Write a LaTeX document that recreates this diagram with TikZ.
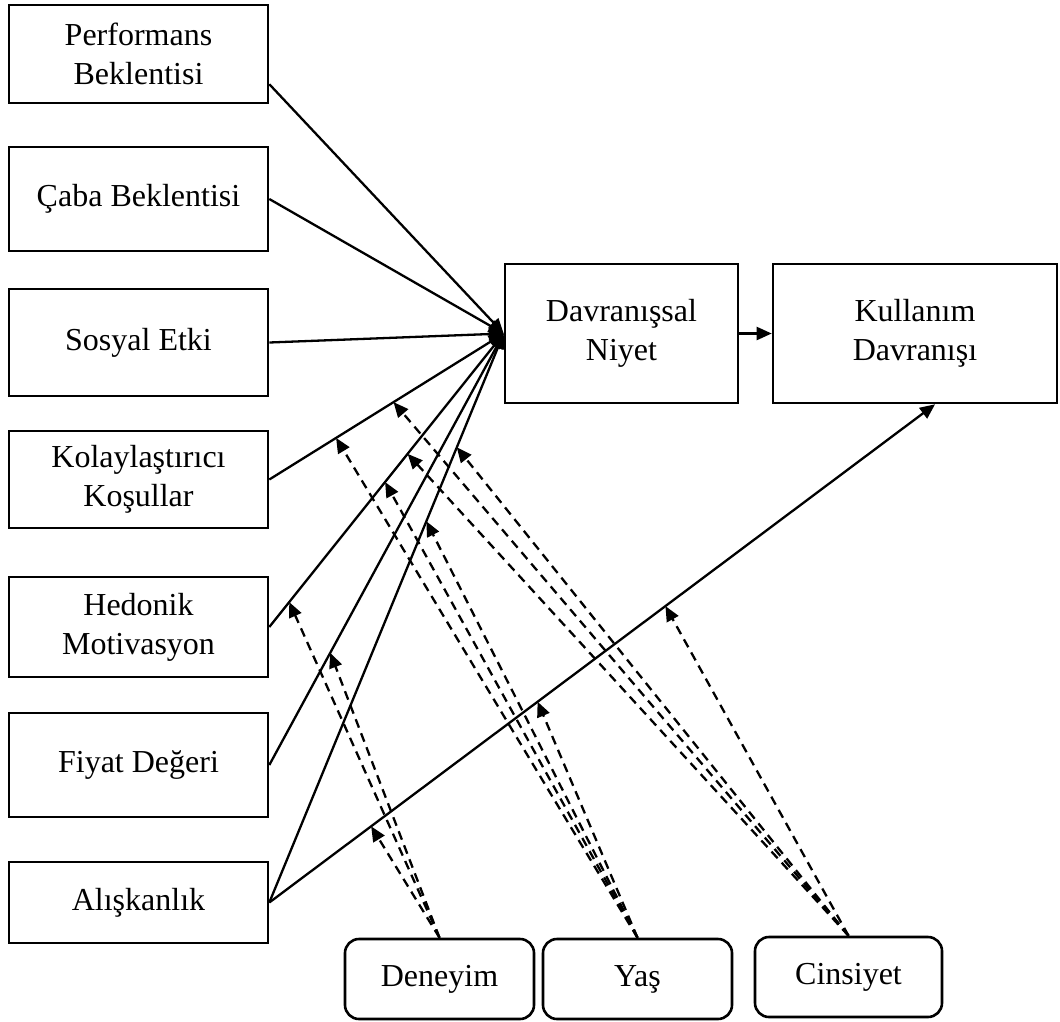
\documentclass[tikz,border=0pt]{standalone}
\usepackage{fontspec}
\setmainfont{Liberation Serif}
\usetikzlibrary{arrows.meta,calc}
\begin{document}
\begin{tikzpicture}[x=1pt,y=-1pt,
  every node/.style={font=\fontsize{32}{39}\selectfont, align=center, inner sep=0pt},
  lbox/.style={draw, line width=2.6pt, minimum width=259pt},
  mbox/.style={draw, line width=2.6pt, rounded corners=14pt, minimum height=80pt},
  solidarr/.style={line width=2.3pt, -{Triangle[length=15pt,width=13pt]}},
  modarr/.style={line width=2.3pt, dash pattern=on 9pt off 6pt, -{Triangle[length=15pt,width=13pt]}},
]
\fill[white] (0,0) rectangle (1060,1021);
\useasboundingbox (0,0) rectangle (1060,1021);

% constructs
\node[lbox, minimum height=98pt]  (pe) at (138.5,54)    {Performans\\Beklentisi};
\node[lbox, minimum height=104pt] (ee) at (138.5,199)   {Çaba Beklentisi};
\node[lbox, minimum height=107pt] (si) at (138.5,342.5) {Sosyal Etki};
\node[lbox, minimum height=97pt]  (fc) at (138.5,479.5) {Kolaylaştırıcı\\Koşullar};
\node[lbox, minimum height=100pt] (hm) at (138.5,627)   {Hedonik\\Motivasyon};
\node[lbox, minimum height=104pt] (pv) at (138.5,765)   {Fiyat Değeri};
\node[lbox, minimum height=81pt]  (ht) at (138.5,902.5) {Alışkanlık};

\node[draw, line width=2.6pt, minimum width=233pt, minimum height=139pt] (bi) at (621.5,333.5) {Davranışsal\\Niyet};
\node[draw, line width=2.6pt, minimum width=284pt, minimum height=139pt] (ub) at (915,333.5) {Kullanım\\Davranışı};

% moderators
\node[mbox, minimum width=189pt] (exp) at (439.5,979) {Deneyim};
\node[mbox, minimum width=189pt] (age) at (637.5,979) {Yaş};
\node[mbox, minimum width=187pt] (gen) at (848.5,977) {Cinsiyet};

% direct effects
\draw[solidarr] ($(pe.south east)!0.2!(pe.north east)$) -- (bi.west);
\draw[solidarr] (ee.east) -- (bi.west);
\draw[solidarr] (si.east) -- (bi.west);
\draw[solidarr] (fc.east) -- (bi.west);
\draw[solidarr] (hm.east) -- (bi.west);
\draw[solidarr] (pv.east) -- (bi.west);
\draw[solidarr] (ht.east) -- (bi.west);
\draw[solidarr] (bi.east) -- (ub.west);
\coordinate (ubin) at ($(ub.south west)!0.57!(ub.south east)$);
\draw[solidarr] (ht.east) -- (ubin);

% moderating effects
\draw[modarr] (gen.north) -- ($(fc.east)!0.53!(bi.west)$);
\draw[modarr] (age.north) -- ($(fc.east)!0.285!(bi.west)$);
\draw[modarr] (gen.north) -- ($(hm.east)!0.59!(bi.west)$);
\draw[modarr] (age.north) -- ($(hm.east)!0.494!(bi.west)$);
\draw[modarr] (exp.north) -- ($(hm.east)!0.085!(bi.west)$);
\draw[modarr] (exp.north) -- ($(pv.east)!0.26!(bi.west)$);
\draw[modarr] (gen.north) -- ($(ht.east)!0.80!(bi.west)$);
\draw[modarr] (age.north) -- ($(ht.east)!0.67!(bi.west)$);
\draw[modarr] (exp.north) -- ($(ht.east)!0.153!(ubin)$);
\draw[modarr] (age.north) -- ($(ht.east)!0.403!(ubin)$);
\draw[modarr] (gen.north) -- ($(ht.east)!0.595!(ubin)$);
\end{tikzpicture}
\end{document}
